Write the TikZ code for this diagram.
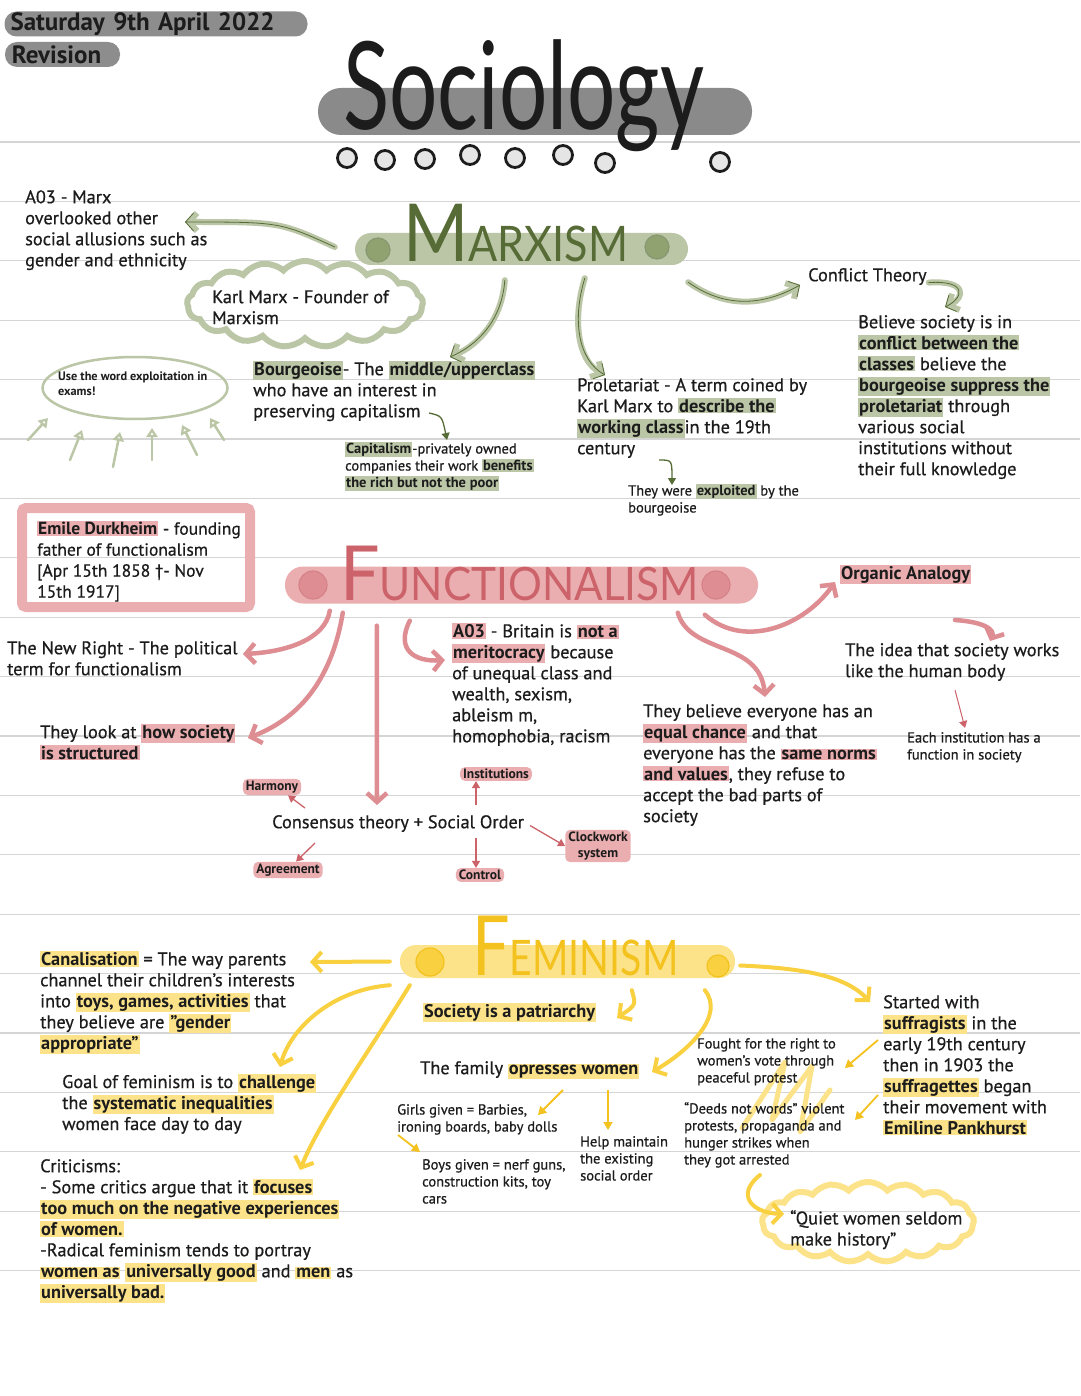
\documentclass[tikz,border=0pt]{standalone}
\usepackage{fontspec}
\setmainfont{PT Sans}[UprightFeatures={FakeBold=0.6}]
\newfontfamily\headfont{Lato}
\usetikzlibrary{arrows.meta,shapes.geometric,shapes.symbols}

\definecolor{ruleline}{HTML}{D5D5D5}
\definecolor{pillgray}{HTML}{8D8D8D}
\definecolor{bargray}{HTML}{8A8A8A}
\definecolor{glight}{HTML}{BAC6A6}
\definecolor{gmid}{HTML}{8FA270}
\definecolor{gdark}{HTML}{566B35}
\definecolor{plight}{HTML}{EBAEB0}
\definecolor{pmid}{HTML}{DE8E92}
\definecolor{pdark}{HTML}{CC636A}
\definecolor{ylight}{HTML}{FCE38A}
\definecolor{ymid}{HTML}{F9D040}
\definecolor{ydark}{HTML}{F4C21E}
\definecolor{ink}{HTML}{1C1C1C}

\newcommand{\hlg}[1]{{\setlength{\fboxsep}{1pt}\colorbox{glight}{\bfseries #1}}}
\newcommand{\hlp}[1]{{\setlength{\fboxsep}{1pt}\colorbox{plight}{\bfseries #1}}}
\newcommand{\hly}[1]{{\setlength{\fboxsep}{1pt}\colorbox{ylight}{\bfseries #1}}}

\tikzset{
  note/.style={anchor=north west, inner sep=0pt, align=left, text=ink,
    font=\fontsize{18.3}{21}\selectfont},
  small/.style={note, font=\fontsize{14.5}{17}\selectfont},
  tagp/.style={fill=plight, rounded corners=5pt, inner xsep=3pt, inner ysep=2pt,
    text=ink, align=center, font=\bfseries\fontsize{13.5}{16}\selectfont},
  bar/.style={rounded corners=16pt, inner sep=0pt},
  pill/.style={fill=pillgray, rounded corners=12pt, inner sep=0pt, text=ink,
    align=left, font=\bfseries\fontsize{25}{25}\selectfont},
  dot/.style={circle, inner sep=0pt, line width=1.2pt},
  ring/.style={circle, inner sep=0pt, draw=ink, fill=gray!20, line width=2.8pt,
    minimum size=19pt},
  garrow/.style={draw=glight, line width=6pt, line cap=round,
    -{Straight Barb[length=8pt,width=18pt]},
    postaction={draw=gdark, line width=0.8pt}},
  parrow/.style={draw=pmid, line width=4.5pt, line cap=round,
    -{Straight Barb[length=9pt,width=20pt]}},
  yarrow/.style={draw=ymid, line width=4pt, line cap=round,
    -{Straight Barb[length=9pt,width=20pt]}},
  thing/.style={draw=gdark, line width=1.3pt, -{Triangle[length=7pt,width=8pt]}},
  thinp/.style={draw=pdark, line width=1.3pt, -{Triangle[length=7pt,width=8pt]}},
  thiny/.style={draw=ydark, line width=1.8pt, -{Triangle[length=8pt,width=9pt]}},
  uparrow/.style={draw=glight, line width=2.5pt, line cap=round,
    -{Triangle[open,length=9pt,width=11pt]}},
  cloudbox/.style={cloud, cloud puffs=17, cloud puff arc=95, cloud ignores aspect,
    line width=6pt, inner sep=0pt},
}

\begin{document}
\begin{tikzpicture}[x=1pt, y=-1pt]
\useasboundingbox[fill=white] (0,0) rectangle (1080,1396);

% ruled paper
\foreach \k in {0,...,19}
  \draw[ruleline, line width=1.3pt] (0,{142+59.4*\k}) -- (1080,{142+59.4*\k});

% date and title
\node[pill, minimum width=303pt, minimum height=25pt, text width=291pt] (date) at (156,24) {Saturday 9th April 2022};
\node[pill, minimum width=115pt, minimum height=25pt, text width=101pt] (revis) at (62.5,54.5) {Revision};

\node[bar, fill=bargray, minimum width=434pt, minimum height=47pt, rounded corners=23pt] (sociobar) at (535,111.5) {};
\node[anchor=base west, inner sep=0pt, text=ink] (socio) at (343,130)
  {\headfont\fontsize{122}{122}\selectfont\scalebox{0.7}[1]{Sociology}};
\foreach \cx/\cy in {347/158, 385/160, 425/159, 470/155, 515/158, 563/155, 605/163, 720/162}
  \node[ring] (ring\cx) at (\cx,\cy) {};

% ---- Marxism
\node[bar, fill=glight, minimum width=333pt, minimum height=32pt] (marxbar) at (521.5,249) {};
\node[dot, fill=gmid, draw=gdark!70, minimum size=24pt] (mdotl) at (378,250) {};
\node[dot, fill=gmid, draw=gdark!70, minimum size=24pt] (mdotr) at (657,247) {};
\node[anchor=base west, inner sep=0pt, text=gdark] (marx) at (403,262)
  {\headfont\scalebox{0.88}[1]{\fontsize{80}{80}\selectfont M\fontsize{49}{49}\selectfont ARXISM}};

\node[note] (ao3m) at (25,190) {A03 - Marx\\overlooked other\\social allusions such as\\gender and ethnicity};
\node[cloudbox, draw=glight, minimum width=236pt, minimum height=86pt] (karlcloud) at (305,304) {};
\node[note] (karl) at (212,290) {Karl Marx - Founder of\\Marxism};
\node[ellipse, draw=glight, line width=2.5pt, minimum width=185pt, minimum height=62pt] (expl) at (135,388) {};
\node[note, font=\bfseries\fontsize{12.3}{15}\selectfont] (expltxt) at (58,372) {Use the word exploitation in\\exams!};
\node[note] (bourg) at (253,361) {\hlg{Bourgeoise}- The \hlg{middle/upperclass}\\who have an interest in\\preserving capitalism};
\node[small] (capit) at (345,442) {\hlg{Capitalism}-privately owned\\companies their work \hlg{benefits}\\\hlg{the rich but not the poor}};
\node[note] (prol) at (577,378) {Proletariat - A term coined by\\Karl Marx to \hlg{describe the}\\\hlg{working class}in the 19th\\century};
\node[small] (expt) at (628,484) {They were \hlg{exploited} by the\\bourgeoise};
\node[note] (confl) at (808,268) {Conflict Theory};
\node[note] (believe) at (858,315) {Believe society is in\\\hlg{conflict between the}\\\hlg{classes} believe the\\\hlg{bourgeoise suppress the}\\\hlg{proletariat} through\\various social\\institutions without\\their full knowledge};

\draw[garrow] ([shift={(-20,-2)}]marxbar.west) .. controls (280,222) .. ([shift={(160,32)}]ao3m.north west);
\draw[garrow] ([shift={(150,15)}]marxbar.south west) .. controls (502,320) and (478,345) .. ([shift={(197,-4)}]bourg.north west);
\draw[garrow] ([shift={(230,13)}]marxbar.south west) .. controls (572,320) and (578,360) .. ([shift={(28,-3)}]prol.north west);
\draw[garrow] ([shift={(0,17)}]marxbar.south east) .. controls (730,312) and (770,302) .. ([shift={(-8,17)}]confl.north west);
\draw[garrow] ([shift={(2,6)}]confl.east) .. controls (968,280) and (964,298) .. ([shift={(87,-8)}]believe.north west);
\draw[thing] ([shift={(176,52)}]bourg.north west) .. controls (442,416) .. ([shift={(102,-2)}]capit.north west);
\draw[thing] ([shift={(82,82)}]prol.north west) .. controls (672,460) .. ([shift={(44,1)}]expt.north west);
\foreach \hx/\hy/\tx/\ty in {-87/30/-107/52, -53/42/-65/72, -15/44/-22/79, 17/40/17/72, 47/37/62/67, 75/30/89/52}
  \draw[uparrow] ([shift={(\tx,\ty)}]expl.center) -- ([shift={(\hx,\hy)}]expl.center);

% ---- Functionalism
\node[draw=plight, line width=10pt, rounded corners=4pt, minimum width=228pt, minimum height=99pt] (durkbox) at (136,557.5) {};
\node[note, font=\fontsize{17.5}{21}\selectfont] (durk) at (37,521) {\hlp{Emile Durkheim} - founding\\father of functionalism\\{}[Apr 15th 1858 †- Nov\\15th 1917]};
\node[bar, fill=plight, minimum width=473pt, minimum height=37pt, rounded corners=18pt] (funcbar) at (521.5,585) {};
\node[dot, fill=pmid, draw=pdark!80, minimum size=28pt] (fdotl) at (313,585) {};
\node[dot, fill=pmid, draw=pdark!80, minimum size=28pt] (fdotr) at (716,585) {};
\node[anchor=base west, inner sep=0pt, text=pdark] (func) at (340,600)
  {\headfont\scalebox{0.92}[1]{\fontsize{76}{76}\selectfont F\fontsize{46}{46}\selectfont UNCTIONALISM}};

\node[note] (newr) at (7,641) {The New Right - The political\\term for functionalism};
\node[note] (look) at (40,724) {They look at \hlp{how society}\\\hlp{is structured}};
\node[note] (brit) at (452,623) {\hlp{A03} - Britain is \hlp{not a}\\\hlp{meritocracy} because\\of unequal class and\\wealth, sexism,\\ableism m,\\homophobia, racism};
\node[note] (equal) at (643,704) {They believe everyone has an\\\hlp{equal chance} and that\\everyone has the \hlp{same norms}\\\hlp{and values}, they refuse to\\accept the bad parts of\\society};
\node[note] (organic) at (840,565) {\hlp{Organic Analogy}};
\node[note] (idea) at (845,643) {The idea that society works\\like the human body};
\node[small] (each) at (907,732) {Each institution has a\\function in society};
\node[note] (cons) at (272,815) {Consensus theory + Social Order};
\node[tagp] (harm) at (272,787) {Harmony};
\node[tagp] (agree) at (288,870) {Agreement};
\node[tagp] (inst) at (496,774) {Institutions};
\node[tagp] (ctrl) at (480,875) {Control};
\node[tagp] (clock) at (598,846) {Clockwork\\system};

\draw[parrow] ([shift={(45,7)}]funcbar.south west) .. controls (325,640) and (285,652) .. ([shift={(236,13)}]newr.north west);
\draw[parrow] ([shift={(58,9)}]funcbar.south west) .. controls (330,690) and (290,722) .. ([shift={(208,14)}]look.north west);
\draw[parrow] ([shift={(92,22)}]funcbar.south west) -- ([shift={(105,-10)}]cons.north west);
\draw[parrow] ([shift={(125,17)}]funcbar.south west) .. controls (395,650) and (415,662) .. ([shift={(-7,37)}]brit.north west);
\draw[parrow] ([shift={(393,9)}]funcbar.south west) .. controls (690,655) and (760,640) .. ([shift={(122,-7)}]equal.north west);
\draw[parrow] ([shift={(420,11)}]funcbar.south west) .. controls (745,650) and (805,625) .. ([shift={(-5,17)}]organic.north west);
\draw[parrow] ([shift={(115,55)}]organic.north west) .. controls (985,622) and (995,630) .. ([shift={(145,-2)}]idea.north west);
\draw[thinp, line width=1pt] ([shift={(110,47)}]idea.north west) -- ([shift={(58,-4)}]each.north west);
\draw[thinp] ([shift={(33,-7)}]cons.north west) -- ([xshift=16pt]harm.south);
\draw[thinp] ([shift={(43,28)}]cons.north west) -- ([xshift=8pt]agree.north);
\draw[thinp] ([shift={(204,-10)}]cons.north west) -- ([xshift=-20pt]inst.south);
\draw[thinp] ([shift={(204,23)}]cons.north west) -- ([xshift=-4pt]ctrl.north);
\draw[thinp] ([shift={(6,2)}]cons.east) -- (clock.west);

% ---- Feminism
\node[bar, fill=ylight, minimum width=335pt, minimum height=33pt] (fembar) at (567.5,961.5) {};
\node[dot, fill=ymid, draw=ydark, minimum size=28pt] (ydotl) at (430,962) {};
\node[dot, fill=ymid, draw=ydark, minimum size=22pt] (ydotr) at (718,966) {};
\node[anchor=base west, inner sep=0pt, text=ydark] (fem) at (472,975)
  {\headfont\scalebox{0.8}[1]{\fontsize{83}{83}\selectfont F\fontsize{49}{49}\selectfont EMINISM}};

\draw[ylight, line width=5pt, line cap=round, line join=round]
  (742,1128) -- (785,1062) -- (772,1120) -- (812,1066) -- (800,1132) -- (830,1090);

\node[note] (canal) at (40,951) {\hly{Canalisation} = The way parents\\channel their children's interests\\into \hly{toys, games, activities} that\\they believe are \hly{"gender}\\\hly{appropriate"}};
\node[note] (goal) at (62,1074) {Goal of feminism is to \hly{challenge}\\the \hly{systematic inequalities}\\women face day to day};
\node[note] (crit) at (40,1159) {Criticisms:\\- Some critics argue that it \hly{focuses}\\\hly{too much on the negative experiences}\\\hly{of women.}\\-Radical feminism tends to portray\\\hly{women as} \hly{universally good} and \hly{men} as\\\hly{universally bad.}};
\node[note] (patri) at (423,1003) {\hly{Society is a patriarchy}};
\node[note] (family) at (420,1061) {The family \hly{opresses women}};
\node[small] (girls) at (397,1104) {Girls given = Barbies,\\ironing boards, baby dolls};
\node[small] (boys) at (422,1159) {Boys given = nerf guns,\\construction kits, toy\\cars};
\node[small] (help) at (580,1136) {Help maintain\\the existing\\social order};
\node[small] (fought) at (697,1038) {Fought for the right to\\women's vote through\\peaceful protest};
\node[small] (deeds) at (684,1102) {“Deeds not words” violent\\protests, propaganda and\\hunger strikes when\\they got arrested};
\node[note] (started) at (883,995) {Started with\\\hly{suffragists} in the\\early 19th century\\then in 1903 the\\\hly{suffragettes} began\\their movement with\\\hly{Emiline Pankhurst}};
\node[cloudbox, draw=ylight, minimum width=212pt, minimum height=80pt] (quietcloud) at (868,1222) {};
\node[note] (quiet) at (790,1210) {“Quiet women seldom\\make history”};

\draw[yarrow] ([xshift=-10pt]fembar.west) -- ([shift={(270,11)}]canal.north west);
\draw[yarrow] ([shift={(-10,7)}]fembar.south west) .. controls (330,990) and (290,1030) .. ([shift={(218,-7)}]goal.north west);
\draw[yarrow] ([shift={(10,7)}]fembar.south west) .. controls (370,1050) and (320,1120) .. ([shift={(260,11)}]crit.north west);
\draw[yarrow] ([shift={(232,12)}]fembar.south west) .. controls (636,1005) .. ([shift={(194,15)}]patri.north west);
\draw[yarrow] ([shift={(305,12)}]fembar.south west) .. controls (725,1015) and (690,1050) .. ([shift={(232,11)}]family.north west);
\draw[yarrow] ([shift={(5,4)}]fembar.east) .. controls (800,968) and (845,975) .. ([shift={(-13,7)}]started.north west);
\draw[thiny] ([shift={(143,29)}]family.north west) -- ([shift={(141,11)}]girls.north west);
\draw[thiny] ([shift={(1,31)}]girls.north west) -- ([shift={(-2,-7)}]boys.north west);
\draw[thiny] ([shift={(188,29)}]family.north west) -- ([shift={(28,-6)}]help.north west);
\draw[thiny] ([shift={(-5,45)}]started.north west) -- ([shift={(148,30)}]fought.north west);
\draw[thiny] ([shift={(-5,100)}]started.north west) -- ([shift={(171,18)}]deeds.north west);
\draw[yarrow] ([shift={(76,73)}]deeds.north west) .. controls (735,1195) and (752,1213) .. ([shift={(-6,4)}]quiet.north west);
\end{tikzpicture}
\end{document}
